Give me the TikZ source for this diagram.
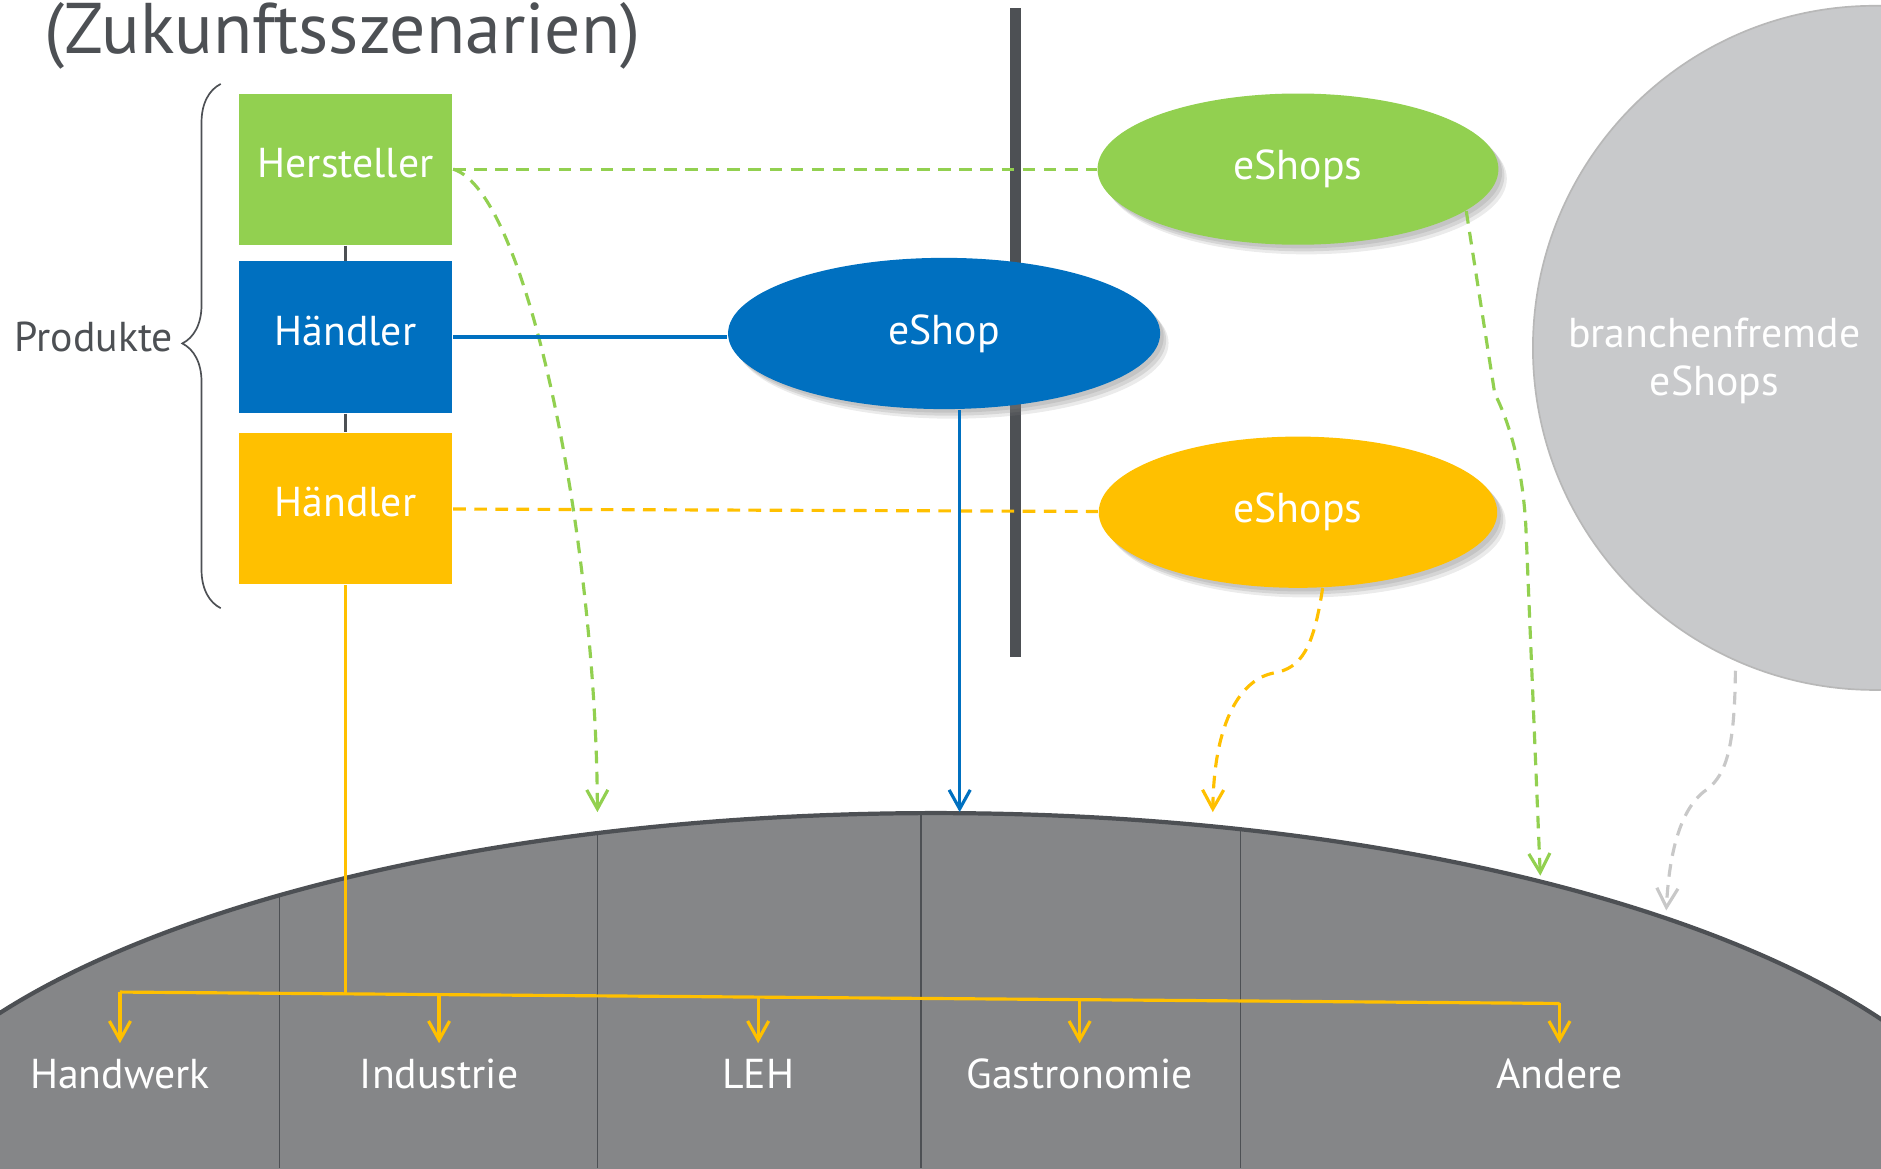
\documentclass[tikz,border=0pt]{standalone}
\usepackage{fontspec}
\setmainfont{PT Sans}
\usetikzlibrary{shapes.geometric,shadows,arrows.meta,decorations.pathreplacing}
\definecolor{gruen}{RGB}{146,208,80}
\definecolor{blau}{RGB}{0,112,192}
\definecolor{gelb}{RGB}{255,192,0}
\definecolor{dunkel}{RGB}{77,80,84}
\definecolor{feldgrau}{RGB}{133,134,136}
\definecolor{hellgrau}{RGB}{200,201,203}
\definecolor{pfeilgrau}{RGB}{200,200,200}

\begin{document}
\begin{tikzpicture}[x=0.01cm,y=-0.01cm,font=\fontsize{9.9}{11.4}\selectfont,
    >={Straight Barb[length=4.5pt,width=5pt]},
    schatten/.style={drop shadow={shadow xshift=0.03cm,shadow yshift=-0.03cm,opacity=0.2},
                     drop shadow={shadow xshift=0.05cm,shadow yshift=-0.055cm,opacity=0.2},
                     drop shadow={shadow xshift=0.07cm,shadow yshift=-0.08cm,opacity=0.16}}]

      \useasboundingbox (0,0) rectangle (1568,974);

      \fill[feldgrau] (780,1011) ellipse [x radius=9cm,y radius=3.33cm];
      \begin{scope}
        \clip (780,1011) ellipse [x radius=9cm,y radius=3.33cm];
        \foreach \x in {233,498,768,1034}
          \draw[dunkel,line width=0.4pt] (\x,600) -- (\x,974);
      \end{scope}
      \draw[dunkel,line width=1pt] (780,1011) ellipse [x radius=9cm,y radius=3.33cm];

      \fill[dunkel] (842,7) rectangle (851,548);

      \node[font=\fontsize{17}{20}\selectfont,text=dunkel,anchor=base west,inner sep=0] (titel) at (36,45) {(Zukunftsszenarien)};
      \node[text=dunkel,anchor=base east,inner sep=0] (produkte) at (145,293) {Produkte};
      \draw[dunkel,line width=0.4pt,decorate,decoration={brace,amplitude=0.32cm,aspect=0.505}] (184,507) -- (184,70);

      \begin{scope}[every node/.style={minimum width=1.78cm,minimum height=1.26cm,inner sep=0,text depth=0.3em,text=white}]
        \node[fill=gruen] (hersteller) at (288,141) {Hersteller};
        \node[fill=blau]  (haendlerB)  at (288,281) {Händler};
        \node[fill=gelb]  (haendlerY)  at (288,424) {Händler};
      \end{scope}

      \begin{scope}[every node/.style={ellipse,inner sep=0,minimum height=1.26cm,text=white,schatten}]
        \node[fill=gruen,minimum width=3.34cm] (shopG) at (1082,141) {eShops};
        \node[fill=blau,minimum width=3.6cm]   (shopB) at (787,278)  {eShop};
        \node[fill=gelb,minimum width=3.32cm]  (shopY) at (1082,427) {eShops};
      \end{scope}

      \node[circle,fill=hellgrau,draw=black!28,line width=0.4pt,minimum size=5.7cm,inner sep=0] (kreis) at (1563,290) {};
      \node[text=white,align=center] (fremd) at (1429,301) {branchenfremde\\eShops};

      \begin{scope}[every node/.style={anchor=base,inner sep=0,text height=0.7em,text=white}]
        \node (handwerk)  at (100,907) {Handwerk};
        \node (industrie) at (366,907) {Industrie};
        \node (leh)       at (632,907) {LEH};
        \node (gastro)    at (900,907) {Gastronomie};
        \node (andere)    at (1300,907) {Andere};
      \end{scope}

      \coordinate (zielG1) at (498,677);
      \coordinate (zielB)  at (800,677);
      \coordinate (zielY)  at (1011,677);
      \coordinate (zielG2) at (1284,730);
      \coordinate (zielW)  at (1389,759);
      \coordinate (bus0) at (289,828.5);
      \coordinate (bus1) at (100,827);
      \coordinate (bus2) at (366,829);
      \coordinate (bus3) at (632,831.2);
      \coordinate (bus4) at (900,833.3);
      \coordinate (bus5) at (1300,836.5);

      \begin{scope}[every edge/.style={draw,dunkel,line width=0.6pt}]
        \path (hersteller) edge (haendlerB);
        \path (haendlerB)  edge (haendlerY);
      \end{scope}

      \begin{scope}[line width=0.75pt]

        \begin{scope}[every edge/.style={draw,dash pattern=on 3pt off 2pt}]
          \path (hersteller) edge[gruen] (shopG);
          \path (haendlerY)  edge[gelb]  (shopY);
        \end{scope}

        \begin{scope}[dash pattern=on 3pt off 2pt]
          \draw[gruen,->] (hersteller.east) .. controls (440,160) and (497,450) .. (zielG1);
          \draw[gruen,->] (shopG.-14) -- (1246,328) .. controls (1262,360) and (1270,400) .. (1272,440) -- (zielG2);
          \draw[gelb,->] (shopY.-72) .. controls (1095,540) and (1085,557) .. (1062,561)
                          .. controls (1035,566) and (1012,600) .. (zielY);
          \draw[pfeilgrau,->,shorten <=0.08cm] (kreis.-114) .. controls (1446,620) and (1440,645) .. (1423,658)
                          .. controls (1405,670) and (1392,700) .. (zielW);
        \end{scope}

        \draw[blau] (haendlerB.east) -- (haendlerB.east -| shopB.west);
        \draw[blau,->] (zielB |- shopB.south) -- (zielB);

        \draw[gelb] (haendlerY.south) -- (haendlerY.south |- bus0);
        \draw[gelb] (bus1) -- (bus5);
        \foreach \z/\n in {1/handwerk,2/industrie,3/leh,4/gastro,5/andere}
          \draw[gelb,->,shorten >=0.12cm] (bus\z) -- (bus\z |- \n.north);

      \end{scope}

    \end{tikzpicture}
\end{document}
